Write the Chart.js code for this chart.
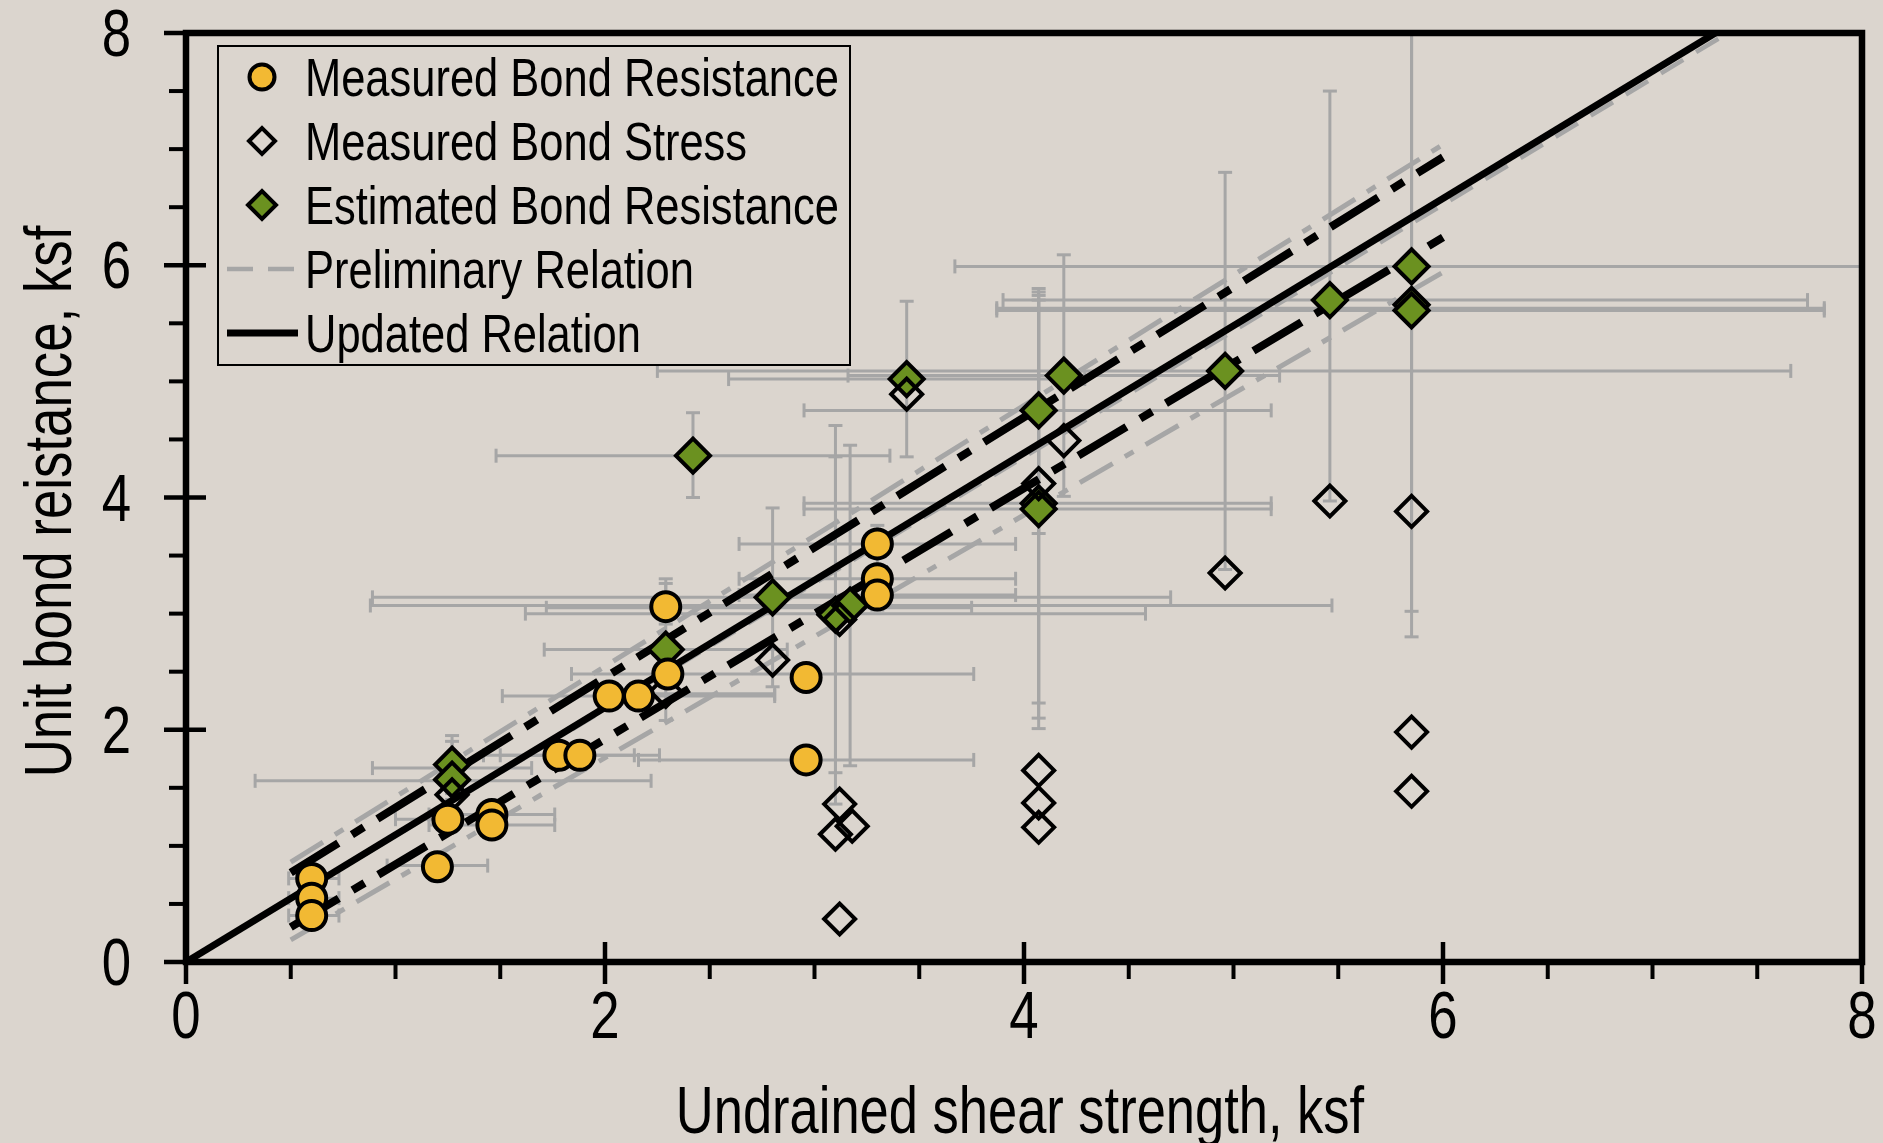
<!DOCTYPE html>
<html>
<head>
<meta charset="utf-8">
<script src="https://cdn.jsdelivr.net/npm/chart.js@4.4.1/dist/chart.umd.min.js"></script>
<style>
  html, body { margin: 0; padding: 0; background: #dbd5ce; }
  #wrap { width: 1883px; height: 1143px; }
</style>
</head>
<body>
<div id="wrap"><canvas id="bondChart" width="1883" height="1143"></canvas></div>
<script>
// Measured Bond Resistance (yellow circles)
const measuredResX = [0.60, 0.60, 0.60, 1.20, 1.25, 1.46, 1.46, 1.78, 1.88, 2.02, 2.16, 2.29, 2.30, 2.96, 2.96, 3.30, 3.30, 3.30]
const measuredResY = [0.72, 0.55, 0.40, 0.82, 1.23, 1.27, 1.18, 1.78, 1.78, 2.29, 2.29, 3.06, 2.48, 2.45, 1.74, 3.60, 3.30, 3.16]

// Measured Bond Stress (open diamonds)
const stressX = [1.27, 2.29, 2.80, 3.12, 3.12, 3.10, 3.18, 3.12, 3.44, 4.07, 4.19, 4.07, 4.07, 4.07, 4.96, 5.46, 5.85, 5.85, 5.85]
const stressY = [1.44, 2.33, 2.60, 2.95, 1.36, 1.10, 1.17, 0.37, 4.89, 4.12, 4.49, 1.65, 1.37, 1.16, 3.35, 3.97, 3.88, 1.98, 1.47]

// Estimated Bond Resistance (green diamonds)
const estX = [1.27, 1.27, 2.29, 2.42, 2.80, 3.10, 3.17, 3.44, 4.07, 4.07, 4.07, 4.19, 4.96, 5.46, 5.85, 5.85, 5.85]
const estY = [1.70, 1.57, 2.69, 4.36, 3.14, 2.99, 3.07, 5.02, 4.75, 3.95, 3.90, 5.05, 5.09, 5.70, 5.99, 5.66, 5.61]

// Relations
const updatedX = [0, 7.30]
const updatedY = [0, 8.00]
const prelimX = [0, 7.36]
const prelimY = [0, 8.00]
const boundX = [0.5, 6.0]
const upperY = [0.77, 6.93]
const lowerY = [0.30, 6.24]
const prelimUpperY = [0.86, 7.04]
const prelimLowerY = [0.19, 5.94]

// Horizontal error bars: y, low x, high x
const hBarY =  [5.99, 5.70, 5.63, 5.61, 5.09, 5.05, 5.02, 4.75, 4.36, 3.95, 3.90, 3.60, 3.30, 3.16, 3.14, 3.07, 3.05, 3.00, 2.69, 2.48, 2.29, 2.31, 1.78, 1.78, 1.74, 1.67, 1.56, 1.27, 1.18, 1.23, 0.83, 0.72, 0.55, 0.40]
const hBarLo = [3.67, 3.90, 3.87, 3.87, 2.25, 3.16, 2.59, 2.95, 1.48, 2.95, 2.95, 2.64, 2.64, 2.64, 0.89, 0.88, 1.72, 1.62, 1.71, 1.84, 1.51, 2.16, 1.42, 1.50, 2.16, 0.89, 0.33, 1.16, 1.16, 1.00, 0.96, 0.49, 0.49, 0.49]
const hBarHi = [8.30, 7.74, 7.82, 7.82, 7.66, 5.22, 4.29, 5.18, 3.36, 5.18, 5.18, 3.96, 3.96, 3.96, 4.70, 5.47, 3.75, 4.58, 2.87, 3.76, 2.81, 2.81, 2.14, 2.26, 3.76, 1.65, 2.22, 1.76, 1.76, 1.50, 1.44, 0.73, 0.73, 0.73]

// Vertical error bars: x, low y, high y
const vBarX =  [5.85, 5.85, 5.46, 4.96, 4.19, 4.07, 4.07, 4.07, 4.07, 3.44, 3.10, 3.17, 3.10, 2.80, 2.42, 2.29, 2.29, 1.27, 1.27, 3.30]
const vBarLo = [3.02, 2.80, 3.97, 3.38, 4.01, 3.69, 2.10, 2.01, 2.23, 4.35, 1.36, 1.69, 1.63, 2.37, 4.00, 2.91, 2.08, 1.45, 1.40, 3.03]
const vBarHi = [8.00, 8.00, 7.50, 6.80, 6.09, 5.80, 5.77, 5.74, 5.70, 5.69, 4.62, 4.45, 4.35, 3.91, 4.73, 3.26, 3.30, 1.95, 1.90, 3.76]

// Axis ticks and titles
const tickValues = [0, 2, 4, 6, 8]
const xTitle = "Undrained shear strength, ksf"
const yTitle = "Unit bond reistance, ksf"

const FONT = "'Liberation Sans', Arial, sans-serif"
const BG = "#dbd5ce"
const GREY = "#a6a6a6"

const toPoints = (xs, ys) => xs.map((x, i) => ({ x: x, y: ys[i] }))

// narrow text: Liberation Sans squeezed sideways
function narrowText(ctx, text, x, y, size, squeeze, align, rotation) {
  ctx.save()
  ctx.translate(x, y)
  if (rotation) ctx.rotate(rotation)
  ctx.scale(squeeze, 1)
  ctx.font = size + "px " + FONT
  ctx.fillStyle = "#000"
  ctx.textAlign = align
  ctx.textBaseline = "alphabetic"
  ctx.fillText(text, 0, 0)
  ctx.restore()
}

const backgroundPlugin = {
  id: "background",
  beforeDraw(chart) {
    const ctx = chart.ctx
    ctx.save()
    ctx.fillStyle = BG
    ctx.fillRect(0, 0, chart.width, chart.height)
    ctx.restore()
  },
}

// grey error bars behind the markers
const errorBarPlugin = {
  id: "errorBars",
  beforeDatasetsDraw(chart) {
    const { ctx, chartArea, scales } = chart
    const sx = scales.x
    const sy = scales.y
    const cap = 7
    ctx.save()
    ctx.beginPath()
    ctx.rect(chartArea.left, chartArea.top, chartArea.right - chartArea.left, chartArea.bottom - chartArea.top)
    ctx.clip()
    ctx.strokeStyle = GREY
    ctx.lineWidth = 3
    const seg = (x1, y1, x2, y2) => {
      ctx.beginPath()
      ctx.moveTo(x1, y1)
      ctx.lineTo(x2, y2)
      ctx.stroke()
    }
    hBarY.forEach((v, i) => {
      const py = sy.getPixelForValue(v)
      const x1 = sx.getPixelForValue(hBarLo[i])
      const x2 = sx.getPixelForValue(hBarHi[i])
      seg(x1, py, x2, py)
      seg(x1, py - cap, x1, py + cap)
      seg(x2, py - cap, x2, py + cap)
    })
    vBarX.forEach((v, i) => {
      const px = sx.getPixelForValue(v)
      const y1 = sy.getPixelForValue(vBarLo[i])
      const y2 = sy.getPixelForValue(vBarHi[i])
      seg(px, y1, px, y2)
      seg(px - cap, y1, px + cap, y1)
      seg(px - cap, y2, px + cap, y2)
    })
    ctx.restore()
  },
}

// frame, tick marks, tick labels and axis titles
const axesPlugin = {
  id: "axesDraw",
  afterDatasetsDraw(chart) {
    const { ctx, chartArea, scales } = chart
    const { left, right, top, bottom } = chartArea
    ctx.save()
    ctx.strokeStyle = "#000"
    ctx.lineWidth = 6.5
    ctx.strokeRect(left, top, right - left, bottom - top)
    for (let v = 0; v <= 8; v += 0.5) {
      const major = v % 2 === 0
      const px = scales.x.getPixelForValue(v)
      const py = scales.y.getPixelForValue(v)
      ctx.lineWidth = major ? 4.5 : 4
      ctx.beginPath()
      ctx.moveTo(px, major ? bottom - 20 : bottom)
      ctx.lineTo(px, major ? bottom + 22 : bottom + 17)
      ctx.stroke()
      ctx.beginPath()
      ctx.moveTo(major ? left + 20 : left, py)
      ctx.lineTo(major ? left - 22 : left - 17, py)
      ctx.stroke()
    }
    ctx.restore()

    tickValues.forEach((v) => {
      narrowText(ctx, String(v), scales.x.getPixelForValue(v), 1038, 66, 0.8, "center")
      narrowText(ctx, String(v), 131, scales.y.getPixelForValue(v) + 23, 66, 0.8, "right")
    })
    narrowText(ctx, xTitle, (left + right) / 2 - 4, 1133, 66, 0.795, "center")
    narrowText(ctx, yTitle, 71, (top + bottom) / 2 + 4, 66, 0.8, "center", -Math.PI / 2)
  },
}

// boxed legend in the upper left of the plot
const legendPlugin = {
  id: "boxLegend",
  afterDraw(chart) {
    const ctx = chart.ctx
    const box = { x: 218, y: 46, w: 632, h: 319 }
    const rows = [77, 141, 205, 269, 333]
    ctx.save()
    ctx.fillStyle = BG
    ctx.fillRect(box.x, box.y, box.w, box.h)
    ctx.strokeStyle = "#000"
    ctx.lineWidth = 2
    ctx.strokeRect(box.x, box.y, box.w, box.h)
    const entries = chart.data.datasets.filter((d) => d.legendLabel)
    entries.forEach((d, i) => {
      const cy = rows[i]
      if (d.showLine) {
        ctx.save()
        ctx.strokeStyle = d.borderColor
        ctx.lineWidth = d.borderWidth
        ctx.setLineDash(d.borderDash || [])
        ctx.beginPath()
        ctx.moveTo(227, cy)
        ctx.lineTo(298, cy)
        ctx.stroke()
        ctx.restore()
      } else {
        ctx.fillStyle = d.backgroundColor
        ctx.strokeStyle = d.borderColor
        ctx.lineWidth = d.borderWidth
        Chart.helpers.drawPoint(ctx, { pointStyle: d.pointStyle, radius: d.legendRadius, borderWidth: d.borderWidth, rotation: 0 }, 262, cy)
      }
      narrowText(ctx, d.legendLabel, 305, cy + 19, 53, 0.82, "left")
    })
    ctx.restore()
  },
}

// order 1 = drawn underneath the black lines and markers
const lineSet = (xs, ys, color, width, dash, label, order) => ({
  data: toPoints(xs, ys),
  showLine: true,
  borderColor: color,
  backgroundColor: color,
  borderWidth: width,
  borderDash: dash,
  pointRadius: 0,
  legendLabel: label,
  order: order,
})

const ctx = document.getElementById("bondChart")

new Chart(ctx, {
  type: "scatter",
  data: {
    datasets: [
      {
        legendLabel: "Measured Bond Resistance",
        legendRadius: 12.5,
        data: toPoints(measuredResX, measuredResY),
        pointStyle: "circle",
        pointRadius: 14.5,
        backgroundColor: "#f2b933",
        borderColor: "#000",
        borderWidth: 4,
        order: 0,
      },
      {
        legendLabel: "Measured Bond Stress",
        legendRadius: 13,
        data: toPoints(stressX, stressY),
        pointStyle: "rectRot",
        pointRadius: 15.5,
        backgroundColor: "rgba(0,0,0,0)",
        borderColor: "#000",
        borderWidth: 4,
        order: 0,
      },
      {
        legendLabel: "Estimated Bond Resistance",
        legendRadius: 14,
        data: toPoints(estX, estY),
        pointStyle: "rectRot",
        pointRadius: 17,
        backgroundColor: "#6b9120",
        borderColor: "#000",
        borderWidth: 4,
        order: 0,
      },
      lineSet(prelimX, prelimY, GREY, 4.5, [26, 15], "Preliminary Relation", 1),
      lineSet(updatedX, updatedY, "#000", 7, [], "Updated Relation", 0),
      lineSet(boundX, upperY, "#000", 8, [56, 16, 14, 16], null, 0),
      lineSet(boundX, lowerY, "#000", 8, [56, 16, 14, 16], null, 0),
      lineSet(boundX, prelimUpperY, GREY, 5, [38, 14, 10, 14], null, 1),
      lineSet(boundX, prelimLowerY, GREY, 5, [38, 14, 10, 14], null, 1),
    ],
  },
  options: {
    responsive: false,
    animation: false,
    layout: { padding: { top: 33, right: 19, left: 0, bottom: 0 } },
    plugins: {
      legend: { display: false },
      tooltip: { enabled: false },
    },
    scales: {
      x: {
        type: "linear",
        min: 0,
        max: 8,
        afterFit: (scale) => { scale.height = 181 },
        grid: { display: false, drawTicks: false },
        border: { display: false },
        ticks: { display: false, stepSize: 2 },
      },
      y: {
        type: "linear",
        min: 0,
        max: 8,
        afterFit: (scale) => { scale.width = 186 },
        grid: { display: false, drawTicks: false },
        border: { display: false },
        ticks: { display: false, stepSize: 2 },
      },
    },
  },
  plugins: [backgroundPlugin, errorBarPlugin, axesPlugin, legendPlugin],
})
</script>
</body>
</html>
